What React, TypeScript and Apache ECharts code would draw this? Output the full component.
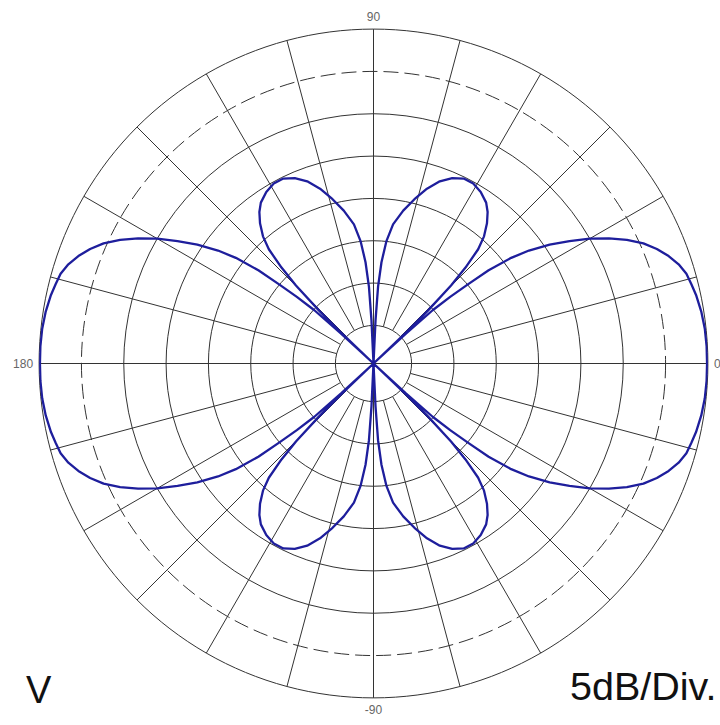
import React, { useEffect, useRef } from "react";
import * as echarts from "echarts";

// Pattern readings for the first quadrant (angle in degrees, level in dB).
// The plot is symmetric about both axes; the other quadrants reuse these readings.
const mainLobeAngles = [0, 3, 6, 9, 12, 14, 16, 18, 20, 22, 24, 26, 28, 30, 32, 34, 36, 37.5, 39, 40, 41, 42, 42.6, 43.2];
const mainLobeDb = [-0.1, -0.1, -0.15, -0.3, -0.55, -0.8, -1.05, -1.6, -2.4, -3.4, -4.6, -6.2, -8.0, -10.0, -12.2, -14.4, -16.8, -19.0, -22.0, -25.0, -27.5, -30.1, -34.3, -39.5];
const sideLobeAngles = [43.6, 44.2, 45.2, 46.2, 47.5, 49, 51, 53, 55, 58, 61, 64, 67, 70, 73, 76, 79, 82, 84, 85.5, 86.6, 87.3, 88];
const sideLobeDb = [-34.0, -30.5, -26.5, -23.8, -21.2, -19.6, -18.2, -17.1, -16.3, -15.6, -15.2, -15.2, -15.7, -16.6, -17.9, -19.5, -21.1, -22.9, -25.0, -27.5, -30.4, -34.4, -39.5];

// Radius scale (dB): rings every 5 dB from -35 to 0, -5 dB ring dashed; centre of plot = null level
const radiusMin = -35;
const radiusMax = 0;
const radiusStep = 5;
const dashedRing = -5;
const centreDb = -39.5;

// Angle grid
const angleStep = 15;
const angleLabels: Record<number, string> = { 0: "0", 90: "90", 180: "180", 270: "-90" };

const modeLabel = "V";
const scaleLabel = "5dB/Div.";

function buildPattern(): number[][] {
  const qA = mainLobeAngles.concat(sideLobeAngles);
  const qV = mainLobeDb.concat(sideLobeDb);
  const out: number[][] = [];
  for (let i = 0; i < qA.length; i++) out.push([qV[i], qA[i]]);
  for (let i = qA.length - 1; i >= 0; i--) out.push([qV[i], 180 - qA[i]]);
  for (let i = 0; i < qA.length; i++) out.push([qV[i], 180 + qA[i]]);
  for (let i = qA.length - 1; i >= 0; i--) out.push([qV[i], 360 - qA[i]]);
  return out;
}

export default function App() {
  const ref = useRef<HTMLDivElement>(null);

  useEffect(() => {
    if (!ref.current) return;
    const chart = echarts.init(ref.current, undefined, { renderer: "svg" });
    const CX = 373.5;
    const CY = 363.5;
    const R_OUT = 334.4;
    const R_IN = (R_OUT * (radiusMin - centreDb)) / (radiusMax - centreDb);
    const gridColor = "#333";
    const none = "rgba(0,0,0,0)";
    const font = "Liberation Sans, Arial, sans-serif";

    const ringTicks: number[] = [];
    for (let v = radiusMin; v <= radiusMax; v += radiusStep) ringTicks.push(v);
    const solidColors = ringTicks.map((v) => (v === dashedRing ? none : gridColor));
    const dashedColors = ringTicks.map((v) => (v === dashedRing ? gridColor : none));

    const hiddenAngle = (idx: number, extra: any = {}) => ({
      polarIndex: idx,
      type: "value",
      min: 0,
      max: 360,
      startAngle: 0,
      clockwise: false,
      axisLine: { show: false },
      axisTick: { show: false },
      axisLabel: { show: false },
      splitLine: { show: false },
      ...extra,
    });
    const hiddenRadius = (idx: number, extra: any = {}) => ({
      polarIndex: idx,
      type: "value",
      axisLine: { show: false },
      axisTick: { show: false },
      axisLabel: { show: false },
      splitLine: { show: false },
      ...extra,
    });

    const option: any = {
      animation: false,
      backgroundColor: "#ffffff",
      polar: [
        { center: [CX, CY], radius: [R_IN, R_OUT] },
        { center: [CX, CY], radius: [R_IN, R_OUT] },
        { center: [CX, CY], radius: [0, R_IN] },
        { center: [CX, CY], radius: [0, R_OUT] },
      ],
      angleAxis: [
        hiddenAngle(0, {
          interval: angleStep,
          axisLabel: {
            show: true,
            margin: 6,
            fontSize: 12,
            fontFamily: font,
            color: "#666",
            formatter: (v: number) => angleLabels[v] ?? "",
          },
          splitLine: { show: true, lineStyle: { color: gridColor, width: 1 } },
        }),
        hiddenAngle(1),
        hiddenAngle(2, {
          interval: 90,
          splitLine: { show: true, lineStyle: { color: gridColor, width: 1 } },
        }),
        hiddenAngle(3),
      ],
      radiusAxis: [
        hiddenRadius(0, {
          min: radiusMin,
          max: radiusMax,
          interval: radiusStep,
          splitLine: { show: true, lineStyle: { color: solidColors, width: 1 } },
        }),
        hiddenRadius(1, {
          min: radiusMin,
          max: radiusMax,
          interval: radiusStep,
          splitLine: { show: true, lineStyle: { color: dashedColors, width: 1, type: [15, 6] } },
        }),
        hiddenRadius(2, { min: 0, max: 1 }),
        hiddenRadius(3, { min: centreDb, max: radiusMax }),
      ],
      series: [
        {
          type: "line",
          coordinateSystem: "polar",
          polarIndex: 3,
          data: buildPattern(),
          showSymbol: false,
          symbol: "none",
          clip: false,
          z: 10,
          lineStyle: { color: "#1e1e9c", width: 2.3 },
        },
      ],
      graphic: [
        {
          type: "text",
          left: 26,
          top: 671,
          style: { text: modeLabel, fontSize: 38, fontFamily: font, fill: "#111" },
        },
        {
          type: "text",
          left: 570,
          top: 666,
          style: { text: scaleLabel, fontSize: 39.5, fontFamily: font, fill: "#111" },
        },
      ],
    };
    chart.setOption(option);
    return () => chart.dispose();
  }, []);

  return (
    <div
      ref={ref}
      style={{ position: "absolute", left: 0, top: 0, width: 720, height: 725, background: "#fff" }}
    />
  );
}
